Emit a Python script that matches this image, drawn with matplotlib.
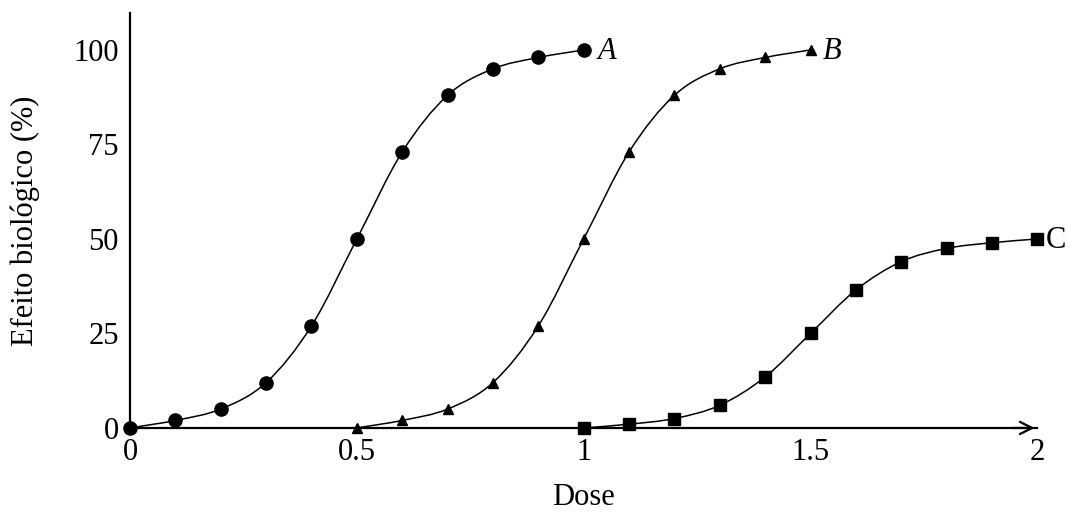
import numpy as np
import matplotlib
matplotlib.use("Agg")
import matplotlib.pyplot as plt
from matplotlib.path import Path
from matplotlib.patches import PathPatch

plt.rcParams['font.family'] = ['Liberation Serif', 'DejaVu Serif']

# data
dose_a = [0.0, 0.1, 0.2, 0.3, 0.4, 0.5, 0.6, 0.7, 0.8, 0.9, 1.0]
effect_a = [0, 2, 5, 12, 27, 50, 73, 88, 95, 98, 100]
dose_b = [0.5, 0.6, 0.7, 0.8, 0.9, 1.0, 1.1, 1.2, 1.3, 1.4, 1.5]
effect_b = [0, 2, 5, 12, 27, 50, 73, 88, 95, 98, 100]
dose_c = [1.0, 1.1, 1.2, 1.3, 1.4, 1.5, 1.6, 1.7, 1.8, 1.9, 2.0]
effect_c = [0, 1, 2.5, 6, 13.5, 25, 36.5, 44, 47.5, 49, 50]

x_ticks = [0, 0.5, 1, 1.5, 2]
x_tick_labels = ['0', '0.5', '1', '1.5', '2']
y_ticks = [0, 25, 50, 75, 100]


def smooth_path(xs, ys):
    # Catmull-Rom through the points, as cubic bezier segments
    p = np.column_stack([xs, ys]).astype(float)
    pts = np.vstack([p[0] * 2 - p[1], p, p[-1] * 2 - p[-2]])
    verts = [tuple(p[0])]
    codes = [Path.MOVETO]
    for i in range(1, len(pts) - 2):
        c1 = pts[i] + (pts[i + 1] - pts[i - 1]) / 6
        c2 = pts[i + 1] - (pts[i + 2] - pts[i]) / 6
        verts += [tuple(c1), tuple(c2), tuple(pts[i + 1])]
        codes += [Path.CURVE4] * 3
    return Path(verts, codes)


fig = plt.figure(figsize=(10.7, 5.15), dpi=100)
ax = fig.add_axes([0.1215, 0.169, 0.848, 0.806])

series = [
    (dose_a, effect_a, 'o', 9.5, 'A', 'italic', 10),
    (dose_b, effect_b, '^', 7, 'B', 'italic', 9),
    (dose_c, effect_c, 's', 8.5, 'C', 'normal', 6),
]
for xs, ys, m, ms, name, style, off in series:
    ax.add_patch(PathPatch(smooth_path(xs, ys), facecolor='none',
                           edgecolor='black', lw=1.1, zorder=2))
    ax.plot(xs, ys, ls='none', marker=m, ms=ms, color='black', zorder=3,
            clip_on=False)
    ax.annotate(name, (xs[-1], ys[-1]), xytext=(off, -1),
                textcoords='offset points', va='center', ha='left',
                fontsize=22, style=style)

ax.set_xlim(0, 2)
ax.set_ylim(0, 109.8)
for s in ['top', 'right']:
    ax.spines[s].set_visible(False)
ax.spines['left'].set_linewidth(1.6)
ax.spines['bottom'].set_linewidth(1.6)
ax.annotate('', xy=(1.0, 0), xycoords='axes fraction', xytext=(0.97, 0),
            arrowprops=dict(arrowstyle='->', lw=1.6, color='black',
                            mutation_scale=22))

ax.set_xticks(x_ticks)
ax.set_xticklabels(x_tick_labels)
ax.set_yticks(y_ticks)
ax.tick_params(length=0, labelsize=22)
ax.tick_params(axis='x', pad=7)
ax.tick_params(axis='y', pad=8)
ax.set_xlabel('Dose', fontsize=22, labelpad=12)
ax.set_ylabel('Efeito biológico (%)', fontsize=22, labelpad=24)

fig.savefig('out.png', dpi=100)
